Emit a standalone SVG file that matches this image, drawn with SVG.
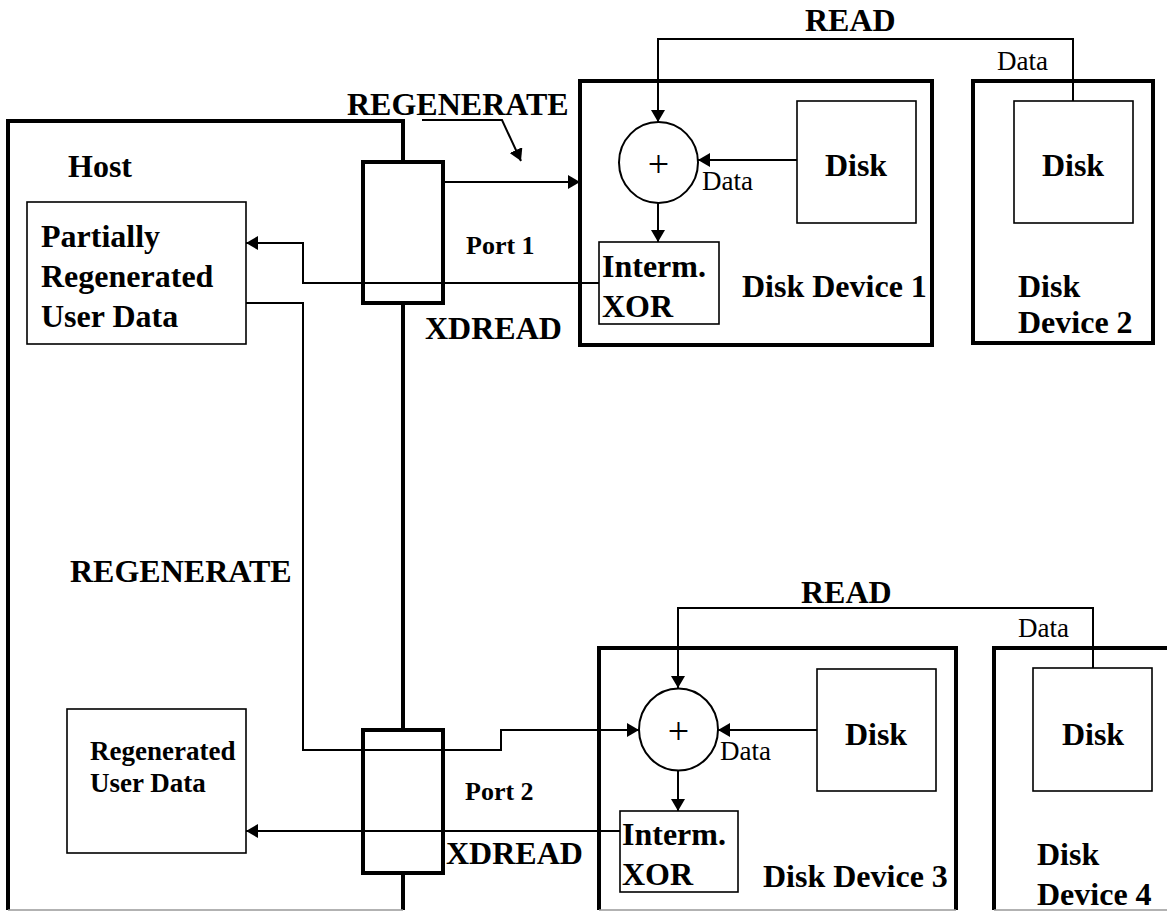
<svg xmlns="http://www.w3.org/2000/svg" width="1167" height="911" viewBox="0 0 1167 911">
<defs>
<marker id="ah" markerUnits="userSpaceOnUse" markerWidth="12" markerHeight="14" refX="12" refY="7" orient="auto">
<path d="M0,0 L12,7 L0,14 z" fill="#000"/>
</marker>
<style>
.thick{fill:none;stroke:#000;stroke-width:4;stroke-linejoin:miter}
.port{fill:#fff;stroke:#000;stroke-width:4}
.thin{fill:#fff;stroke:#000;stroke-width:1.6}
.arr{fill:none;stroke:#000;stroke-width:2;marker-end:url(#ah)}
.edge{stroke:#999;stroke-width:1.5}
text{font-family:"Liberation Serif","Times New Roman",serif;fill:#000}
.b{font-weight:bold;font-size:32px}
.p{font-weight:bold;font-size:26px}
.r{font-weight:bold;font-size:27px}
.d{font-size:27px}
.plus{font-size:38px;text-anchor:middle}
.c{text-anchor:middle}
</style>
</defs>
<rect width="1167" height="911" fill="#fff"/>

<g id="host">
<path class="thick" d="M8,910 V121 H403 V910"/>
<line class="edge" x1="8" y1="910" x2="403" y2="910"/>
<text class="b" x="68" y="177">Host</text>
</g>

<g id="partial">
<rect class="thin" x="27" y="202" width="219" height="142"/>
<text class="b" x="41" y="247">Partially</text>
<text class="b" x="41" y="287">Regenerated</text>
<text class="b" x="41" y="327">User Data</text>
</g>

<g id="regenerated">
<rect class="thin" x="67" y="709" width="179" height="144"/>
<text class="r" x="90" y="760">Regenerated</text>
<text class="r" x="90" y="792">User Data</text>
</g>

<g id="port1">
<rect class="port" x="363" y="162" width="80" height="141"/>
<text class="p" x="466" y="254">Port 1</text>
</g>

<g id="port2">
<rect class="port" x="363" y="730" width="80" height="143"/>
<text class="p" x="465" y="800">Port 2</text>
</g>

<g id="device1">
<rect class="thick" x="580" y="81" width="352" height="264"/>
<text class="b" x="742" y="297">Disk Device 1</text>
</g>
<g id="xor1">
<ellipse cx="658.5" cy="162.5" rx="39.5" ry="40.5" fill="#fff" stroke="#000" stroke-width="2"/>
<text class="plus" x="658.5" y="177">+</text>
</g>
<g id="disk1">
<rect class="thin" x="797" y="101" width="119" height="122"/>
<text class="b c" x="856" y="176">Disk</text>
</g>
<g id="interm1">
<rect class="thin" x="599" y="242" width="120" height="82"/>
<text class="b" x="602" y="277">Interm.</text>
<text class="b" x="602" y="317">XOR</text>
</g>

<g id="device2">
<rect class="thick" x="973" y="81" width="180" height="262"/>
<text class="b" x="1018" y="297">Disk</text>
<text class="b" x="1018" y="333">Device 2</text>
</g>
<g id="disk2">
<rect class="thin" x="1014" y="101" width="119" height="122"/>
<text class="b c" x="1073" y="176">Disk</text>
</g>

<g id="device3">
<path class="thick" d="M599,910 V648 H956 V910"/>
<line class="edge" x1="599" y1="910" x2="956" y2="910"/>
<text class="b" x="763" y="887">Disk Device 3</text>
</g>
<g id="xor3">
<ellipse cx="678.5" cy="729.5" rx="39.5" ry="41" fill="#fff" stroke="#000" stroke-width="2"/>
<text class="plus" x="678.5" y="744">+</text>
</g>
<g id="disk3">
<rect class="thin" x="817" y="669" width="119" height="122"/>
<text class="b c" x="876" y="745">Disk</text>
</g>
<g id="interm3">
<rect class="thin" x="620" y="811" width="118" height="81"/>
<text class="b" x="622" y="845">Interm.</text>
<text class="b" x="622" y="885">XOR</text>
</g>

<g id="device4">
<path class="thick" d="M994,910 V648 H1170"/>
<line class="edge" x1="994" y1="910" x2="1167" y2="910"/>
<text class="b" x="1037" y="865">Disk</text>
<text class="b" x="1037" y="905">Device 4</text>
</g>
<g id="disk4">
<rect class="thin" x="1033" y="668" width="119" height="123"/>
<text class="b c" x="1093" y="745">Disk</text>
</g>

<g id="connectors">
<path class="arr" d="M1073,101 V39 H658 V122"/>
<path class="arr" d="M797,160 H698"/>
<path class="arr" d="M658,203 V242"/>
<path class="arr" d="M443,182 H580"/>
<path class="arr" d="M599,283 H303 V243 H246"/>
<path class="arr" d="M246,303 H303 V750 H501 V730 H639"/>
<path class="arr" d="M422,120 H502 L521,161"/>
<path class="arr" d="M1093,668 V608 H678 V688"/>
<path class="arr" d="M817,730 H718"/>
<path class="arr" d="M678,771 V811"/>
<path class="arr" d="M620,831 H246"/>
</g>

<g id="labels">
<text class="b" x="347" y="115">REGENERATE</text>
<text class="b" x="70" y="582">REGENERATE</text>
<text class="b" x="805" y="31">READ</text>
<text class="b" x="801" y="603">READ</text>
<text class="b" x="425" y="339">XDREAD</text>
<text class="b" x="446" y="864">XDREAD</text>
<text class="d" x="702" y="190">Data</text>
<text class="d" x="720" y="760">Data</text>
<text class="d" x="997" y="70">Data</text>
<text class="d" x="1018" y="637">Data</text>
</g>
</svg>
